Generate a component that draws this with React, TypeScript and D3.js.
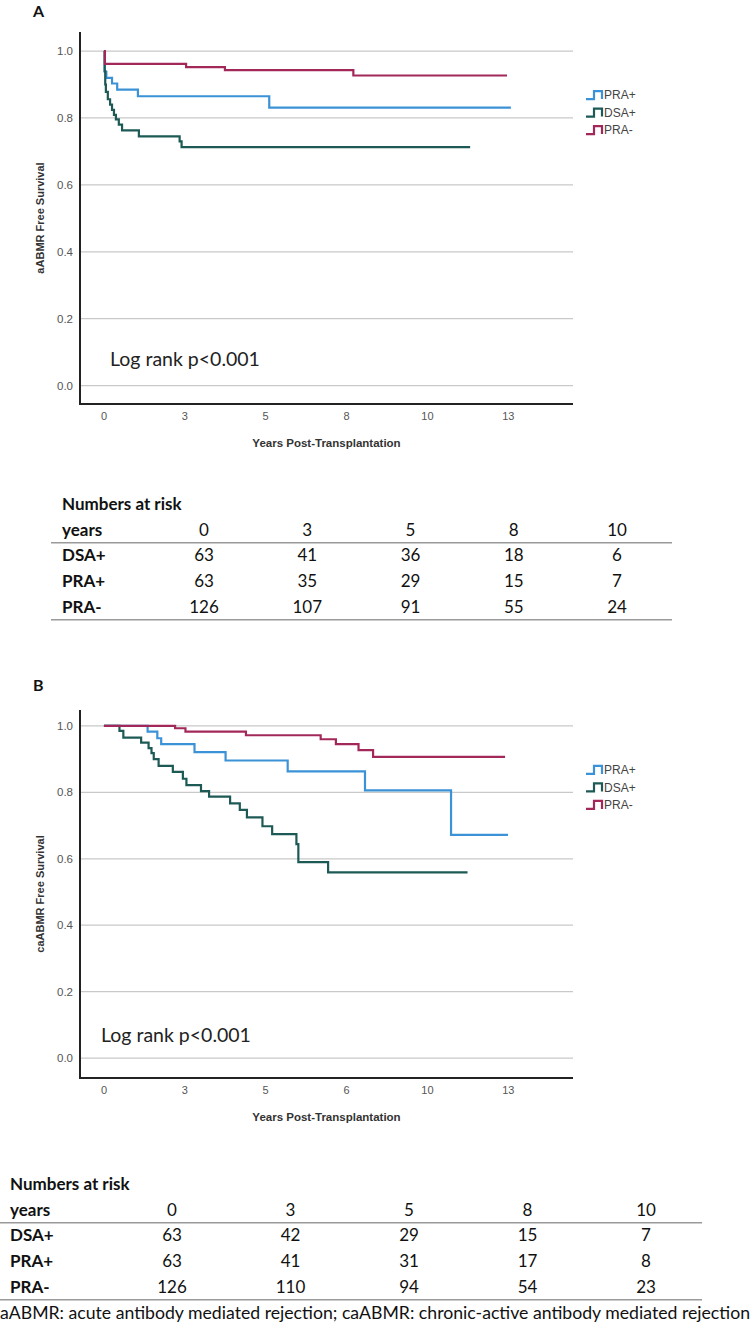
import React from "react";
import * as d3 from "d3";

// ---------- data ----------
const groups = ["PRA+", "DSA+", "PRA-"];
const groupColors = ["#3b92d6", "#1d5a55", "#a3285a"];

// Panel A (aABMR)
const aPraPosT = [0, 0.03, 0.074, 0.25, 0.41, 1.05, 5.11];
const aPraPosS = [1, 0.938, 0.92, 0.903, 0.885, 0.865, 0.831];
const aPraPosEnd = 12.58;
const aDsaT = [0, 0.02, 0.04, 0.06, 0.12, 0.19, 0.25, 0.31, 0.37, 0.46, 0.56, 1.08, 2.34, 2.4];
const aDsaS = [1, 0.94, 0.9, 0.878, 0.856, 0.84, 0.824, 0.809, 0.796, 0.78, 0.763, 0.745, 0.73, 0.713];
const aDsaEnd = 11.32;
const aPraNegT = [0, 0.03, 2.54, 3.74, 7.71];
const aPraNegS = [1, 0.962, 0.952, 0.943, 0.927];
const aPraNegEnd = 12.46;

// Panel B (caABMR)
const bPraPosT = [0, 1.35, 1.65, 1.77, 2.8, 3.76, 5.68, 8.07, 10.73];
const bPraPosS = [1, 0.983, 0.963, 0.945, 0.921, 0.896, 0.863, 0.806, 0.672];
const bPraPosEnd = 12.49;
const bDsaT = [0, 0.48, 0.6, 1.15, 1.38, 1.47, 1.54, 1.69, 2.13, 2.44, 2.55, 3.0, 3.25, 3.9, 4.2, 4.42, 4.9, 5.2, 5.95, 6.01, 6.93];
const bDsaS = [1, 0.985, 0.965, 0.95, 0.933, 0.918, 0.9, 0.88, 0.862, 0.841, 0.822, 0.804, 0.787, 0.767, 0.747, 0.725, 0.698, 0.674, 0.644, 0.59, 0.559];
const bDsaEnd = 11.24;
const bPraNegT = [0, 2.2, 2.52, 4.39, 6.7, 7.17, 7.87, 8.32];
const bPraNegS = [1, 0.993, 0.983, 0.972, 0.96, 0.945, 0.927, 0.907];
const bPraNegEnd = 12.4;

const xTickValues = [0, 2.5, 5, 7.5, 10, 12.5];
const xTickLabelsA = ["0", "3", "5", "8", "10", "13"];
const xTickLabelsB = ["0", "3", "5", "6", "10", "13"];
const yTickValues = [0, 0.2, 0.4, 0.6, 0.8, 1.0];

const riskYears = ["0", "3", "5", "8", "10"];
const riskRows = ["DSA+", "PRA+", "PRA-"];
const riskA_DSA = [63, 41, 36, 18, 6];
const riskA_PRApos = [63, 35, 29, 15, 7];
const riskA_PRAneg = [126, 107, 91, 55, 24];
const riskB_DSA = [63, 42, 29, 15, 7];
const riskB_PRApos = [63, 41, 31, 17, 8];
const riskB_PRAneg = [126, 110, 94, 54, 23];

const footnote = "aABMR: acute antibody mediated rejection; caABMR: chronic-active antibody mediated rejection";

// ---------- helpers ----------
const chartFont = "'Liberation Sans Narrow', 'Liberation Sans', Arial, sans-serif";
const tableFont = "Lato, 'Open Sans', sans-serif";

function buildSeries(t: number[], s: number[], end: number): [number, number][] {
  const pts: [number, number][] = t.map((v, i) => [v, s[i]]);
  pts.push([end, s[s.length - 1]]);
  return pts;
}

type PanelProps = {
  letter: string;
  letterY: number;
  top: number;
  bottom: number;
  yDomain: [number, number];
  series: [number, number][][];
  xLabels: string[];
  yTitle: string;
  logX: number;
  logY: number;
};

function Panel(p: PanelProps) {
  const left = 80;
  const right = 573;
  const x = d3.scaleLinear().domain([-0.74, 14.5]).range([left, right]);
  const y = d3.scaleLinear().domain(p.yDomain).range([p.bottom, p.top]);
  const line = d3
    .line<[number, number]>()
    .x((d) => x(d[0]))
    .y((d) => y(d[1]))
    .curve(d3.curveStepAfter);
  const legendY0 = y(1) + 44;
  const midY = (p.top + p.bottom) / 2;
  return (
    <g>
      <text x={33} y={p.letterY} fontFamily={tableFont} fontWeight="bold" fontSize={16} fill="#111">
        {p.letter}
      </text>
      {yTickValues.map((v) => (
        <g key={v}>
          <line x1={left} x2={right} y1={y(v)} y2={y(v)} stroke="#c9c9c9" strokeWidth={1.3} />
          <text x={73} y={y(v)} dy="0.35em" textAnchor="end" fontFamily={chartFont} fontSize={11.5} fill="#555">
            {d3.format(".1f")(v)}
          </text>
        </g>
      ))}
      {p.series.map((pts, i) => (
        <path key={i} d={line(pts) || ""} fill="none" stroke={groupColors[i]} strokeWidth={2.2} />
      ))}
      <line x1={left} x2={left} y1={p.top} y2={p.bottom} stroke="#222" strokeWidth={2} />
      <line x1={left - 1} x2={right} y1={p.bottom} y2={p.bottom} stroke="#222" strokeWidth={2} />
      {xTickValues.map((v, i) => (
        <text key={v} x={x(v)} y={p.bottom + 12.5} dy="0.35em" textAnchor="middle" fontFamily={chartFont} fontSize={11} fill="#555">
          {p.xLabels[i]}
        </text>
      ))}
      <text x={(left + right) / 2 + 0} y={p.bottom + 39} dy="0.35em" textAnchor="middle" fontFamily="'Liberation Sans', Arial, sans-serif" fontWeight="bold" fontSize={11.5} fill="#333">
        Years Post-Transplantation
      </text>
      <text
        transform={`translate(40,${midY}) rotate(-90)`}
        textAnchor="middle"
        dy="0.35em"
        fontFamily="'Liberation Sans', Arial, sans-serif"
        fontWeight="bold"
        fontSize={11}
        fill="#333"
      >
        {p.yTitle}
      </text>
      <text x={p.logX} y={p.logY} fontFamily={tableFont} fontSize={19.5} fill="#222">
        Log rank p&lt;0.001
      </text>
      {groups.map((g, i) => {
        const ly = legendY0 + i * 17.5;
        const x0 = 586;
        return (
          <g key={g}>
            <path
              d={`M${x0},${ly + 4}H${x0 + 8}V${ly - 4}H${x0 + 16}V${ly + 4}`}
              fill="none"
              stroke={groupColors[i]}
              strokeWidth={2.2}
            />
            <text x={x0 + 18} y={ly} dy="0.35em" fontFamily={chartFont} fontSize={12} fill="#444">
              {g}
            </text>
          </g>
        );
      })}
    </g>
  );
}

type TableProps = {
  top: number;
  labelX: number;
  lineX1: number;
  lineX2: number;
  colRange: [number, number];
  values: number[][];
};

function RiskTable(t: TableProps) {
  const col = d3.scalePoint<string>().domain(riskYears).range(t.colRange);
  const rowH = 25.7;
  const fs = 17;
  return (
    <g fontFamily={tableFont} fontSize={fs} fill="#111">
      <text x={t.labelX} y={t.top} dy="0.35em" fontWeight="bold">
        Numbers at risk
      </text>
      <text x={t.labelX} y={t.top + rowH} dy="0.35em" fontWeight="bold">
        years
      </text>
      {riskYears.map((yr) => (
        <text key={yr} x={col(yr)} y={t.top + rowH} dy="0.35em" textAnchor="middle">
          {yr}
        </text>
      ))}
      <line x1={t.lineX1} x2={t.lineX2} y1={t.top + rowH + 13} y2={t.top + rowH + 13} stroke="#9a9a9a" strokeWidth={1.6} />
      {riskRows.map((r, ri) => {
        const yy = t.top + rowH * (ri + 2);
        return (
          <g key={r}>
            <text x={t.labelX} y={yy} dy="0.35em" fontWeight="bold">
              {r}
            </text>
            {t.values[ri].map((v, ci) => (
              <text key={ci} x={col(riskYears[ci])} y={yy} dy="0.35em" textAnchor="middle">
                {v}
              </text>
            ))}
          </g>
        );
      })}
      <line x1={t.lineX1} x2={t.lineX2} y1={t.top + rowH * 4 + 13} y2={t.top + rowH * 4 + 13} stroke="#9a9a9a" strokeWidth={1.6} />
    </g>
  );
}

export default function App() {
  const seriesA = [
    buildSeries(aPraPosT, aPraPosS, aPraPosEnd),
    buildSeries(aDsaT, aDsaS, aDsaEnd),
    buildSeries(aPraNegT, aPraNegS, aPraNegEnd),
  ];
  const seriesB = [
    buildSeries(bPraPosT, bPraPosS, bPraPosEnd),
    buildSeries(bDsaT, bDsaS, bDsaEnd),
    buildSeries(bPraNegT, bPraNegS, bPraNegEnd),
  ];
  return (
    <svg
      width={756}
      height={1323}
      viewBox="0 0 756 1323"
      style={{ position: "absolute", left: 0, top: 0, background: "#fff" }}
    >
      <rect x={0} y={0} width={756} height={1323} fill="#fff" />
      <Panel
        letter="A"
        letterY={17}
        top={32}
        bottom={404}
        yDomain={[-0.055, 1.057]}
        series={seriesA}
        xLabels={xTickLabelsA}
        yTitle="aABMR Free Survival"
        logX={110}
        logY={366}
      />
      <RiskTable
        top={504}
        labelX={62}
        lineX1={51}
        lineX2={672}
        colRange={[204, 617]}
        values={[riskA_DSA, riskA_PRApos, riskA_PRAneg]}
      />
      <Panel
        letter="B"
        letterY={691}
        top={710}
        bottom={1078}
        yDomain={[-0.06, 1.048]}
        series={seriesB}
        xLabels={xTickLabelsB}
        yTitle="caABMR Free Survival"
        logX={101}
        logY={1042}
      />
      <RiskTable
        top={1184}
        labelX={10}
        lineX1={0}
        lineX2={702}
        colRange={[172, 646]}
        values={[riskB_DSA, riskB_PRApos, riskB_PRAneg]}
      />
      <text x={0} y={1313} dy="0.35em" fontFamily={tableFont} fontSize={16.5} fill="#111" textLength={750} lengthAdjust="spacingAndGlyphs">
        {footnote}
      </text>
    </svg>
  );
}
